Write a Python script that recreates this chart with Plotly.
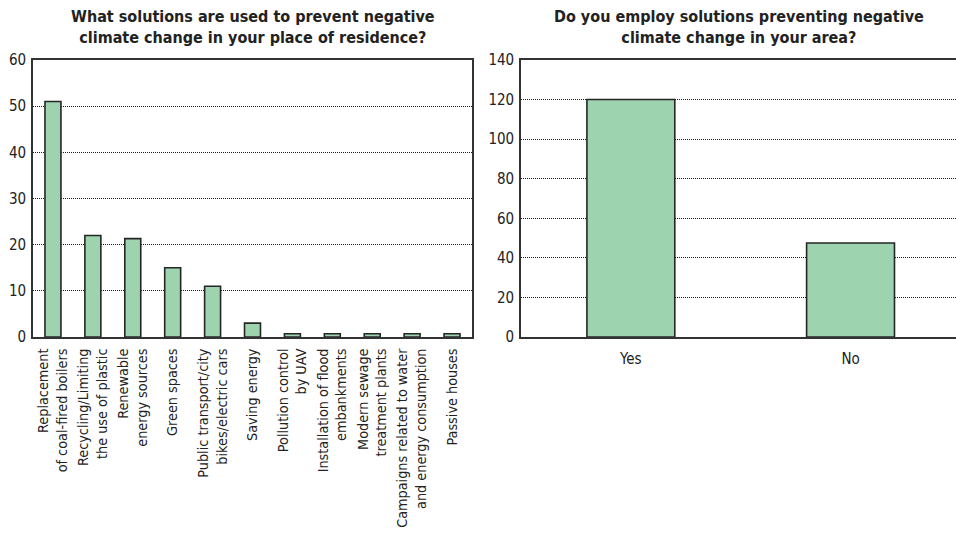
import plotly.graph_objects as go

# ---- data ----
solutions = [
    "Replacement<br>of coal-fired boilers",
    "Recycling/Limiting<br>the use of plastic",
    "Renewable<br>energy sources",
    "Green spaces",
    "Public transport/city<br>bikes/electric cars",
    "Saving energy",
    "Pollution control<br>by UAV",
    "Installation of flood<br>embankments",
    "Modern sewage<br>treatment plants",
    "Campaigns related to water<br>and energy consumption",
    "Passive houses",
]
solution_counts = [51, 22, 21.3, 15, 11, 3, 0.7, 0.7, 0.7, 0.7, 0.7]

answers = ["Yes", "No"]
answer_counts = [120, 47.5]

left_ticks = [0, 10, 20, 30, 40, 50, 60]
right_ticks = [0, 20, 40, 60, 80, 100, 120, 140]

title_left = "What solutions are used to prevent negative<br>climate change in your place of residence?"
title_right = "Do you employ solutions preventing negative<br>climate change in your area?"

# ---- styling ----
FONT = "Liberation Sans Narrow, DejaVu Sans Condensed, Arial Narrow, sans-serif"
BAR_FILL = "#9dd3ae"
EDGE = "#262626"
W, H = 956, 535

fig = go.Figure()
fig.add_trace(go.Bar(x=solutions, y=solution_counts, width=0.4,
                     marker=dict(color=BAR_FILL, line=dict(color=EDGE, width=1.6)),
                     xaxis="x", yaxis="y", hoverinfo="x+y"))
fig.add_trace(go.Bar(x=answers, y=answer_counts, width=0.4,
                     marker=dict(color=BAR_FILL, line=dict(color=EDGE, width=1.6)),
                     xaxis="x2", yaxis="y2", hoverinfo="x+y"))

y_dom = [1 - 337 / H, 1 - 60 / H]
x1_dom = [33 / W, 472 / W]
x2_dom = [521 / W, 1.0]

axis_base = dict(linecolor="#333333", linewidth=1.6, showline=True,
                 ticks="", automargin=False, zeroline=False)
tick_font = dict(family=FONT, size=15, color="#222222")
cat_font = dict(family=FONT, size=14.3, color="#222222")

grid_common = dict(showgrid=True, gridcolor="#1a1a1a", griddash="1px,1px", gridwidth=1)

fig.update_layout(
    width=W, height=H,
    margin=dict(l=0, r=0, t=0, b=0),
    paper_bgcolor="white", plot_bgcolor="white",
    showlegend=False,
    font=dict(family=FONT, color="#222222"),
    xaxis=dict(domain=x1_dom, anchor="y", mirror=True, showgrid=False,
               tickangle=-90, range=[-0.5, 10.5], ticklabelstandoff=4,
               tickfont=cat_font, **axis_base),
    yaxis=dict(domain=y_dom, anchor="x", mirror=True, range=[0, 60],
               tickvals=left_ticks, ticklabelstandoff=2, tickfont=tick_font,
               **grid_common, **axis_base),
    xaxis2=dict(domain=x2_dom, anchor="y2", mirror=True, showgrid=False,
                range=[-0.5, 1.48], ticklabelstandoff=7, tickfont=tick_font, **axis_base),
    yaxis2=dict(domain=y_dom, anchor="x2", mirror=False, range=[0, 140],
                tickvals=right_ticks, ticklabelstandoff=2, tickfont=tick_font,
                **grid_common, **axis_base),
    annotations=[
        dict(text="<b>" + title_left + "</b>", x=(x1_dom[0] + x1_dom[1]) / 2, y=1 - 27 / H,
             xref="paper", yref="paper", showarrow=False, xanchor="center", yanchor="middle",
             font=dict(family=FONT, size=16, color="#222222")),
        dict(text="<b>" + title_right + "</b>", x=(x2_dom[0] + x2_dom[1]) / 2, y=1 - 27 / H,
             xref="paper", yref="paper", showarrow=False, xanchor="center", yanchor="middle",
             font=dict(family=FONT, size=16, color="#222222")),
    ],
)

fig.write_html("out.html")
